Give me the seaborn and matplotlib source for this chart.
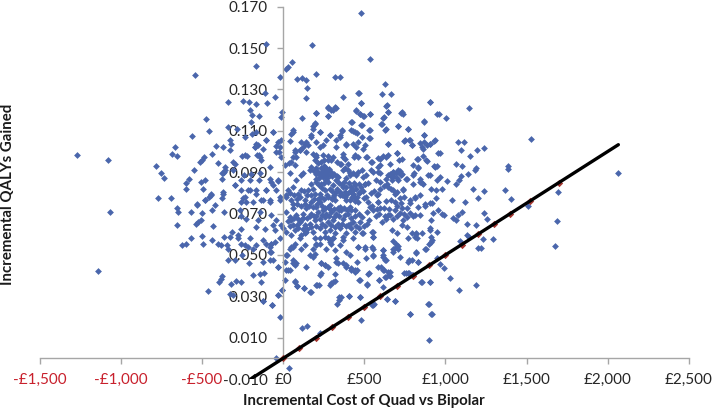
import pandas as pd
import matplotlib
matplotlib.use('agg')
import matplotlib.pyplot as plt
import seaborn as sns

# tick values and labels
x_ticks = [-1500, -1000, -500, 0, 500, 1000, 1500, 2000, 2500]
x_tick_labels = ['-£1,500', '-£1,000', '-£500', '£0', '£500', '£1,000', '£1,500', '£2,000', '£2,500']
y_ticks = [-0.01, 0.01, 0.03, 0.05, 0.07, 0.09, 0.11, 0.13, 0.15, 0.17]
y_tick_labels = ['-0.010', '0.010', '0.030', '0.050', '0.070', '0.090', '0.110', '0.130', '0.150', '0.170']

# threshold line and the small red markers under it
line_cost = [-200, 2065]
line_qaly = [-0.01, 0.1033]
marker_cost = [0, 100, 200, 300, 400, 500, 600, 700, 800, 900, 1000, 1100, 1200, 1300, 1400, 1520, 1700]
marker_qaly = [0.0, 0.005, 0.01, 0.015, 0.02, 0.025, 0.03, 0.035, 0.04, 0.045, 0.05, 0.055, 0.06, 0.065, 0.07, 0.076, 0.085]

# simulation points (cost, qalys)
upper_left = [
    (-1267,.0984),(-1080,.0958),(-785,.0929),(-754,.0894),(-732,.0871),(-683,.0990),(-664,.1021),(-654,.0976),
    (-773,.0776),(-693,.0776),(-600,.0848),(-578,.0866),(-596,.0818),(-549,.0911),(-558,.1074),(-543,.1370),
    (-472,.1159),(-457,.1100),(-512,.0951),(-500,.0961),(-488,.0974),(-506,.0853),(-478,.0861),(-492,.0821),
    (-435,.0990),(-414,.1029),(-371,.1022),(-398,.0945),(-357,.0926),(-365,.0902),(-377,.0894),(-342,.1240),
    (-338,.1119),(-328,.1055),(-318,.1035),(-324,.1009),(-283,.1111),(-297,.0942),(-250,.0979),(-221,.0979),
    (-236,.1071),(-246,.1243),(-209,.1238),(-205,.1203),(-191,.1175),(-148,.1170),(-199,.1143),(-164,.1232),
    (-113,.1283),(-96,.1235),(-51,.1262),(-103,.1521),(-166,.1412),(-21,.1359),(-164,.1095),(-191,.1087),
    (-164,.1038),(-174,.1022),(-158,.0982),(-144,.0974),(-123,.1014),(-103,.1055),(-62,.1092),(-45,.1027),
    (-25,.0998),(-10,.1055),(-4,.1191),(-10,.1167),
    (-297,.0837),(-256,.0861),(-205,.0861),(-215,.0813),(-236,.0781),(-164,.0797),(-148,.0861),(-72,.0853),
    (-31,.0858),(-82,.0926),(-103,.0813),(-41,.0813),(-82,.0765),(-21,.0765),(-123,.0765),(-185,.0757),
    (-256,.0757),(-369,.0797),(-441,.0797),(-455,.0781),(-533,.0745),(-482,.0765),
    (-62,.1092),(-31,.1047),(-21,.1022),(-41,.0998),(-10,.0974),(-103,.1055),(-154,.1030),(-174,.1022),
    (-148,.0982),(-133,.0958),(-236,.0982),(-308,.0950),(-308,.0910),(-359,.0910),(-369,.0894),(-379,.0869),
    (-242,.0886),(-195,.0890),(-144,.0897),(-82,.0869),(-31,.0861),(-62,.0837),(-103,.0813),(-164,.0813),
    (-205,.0813),(-256,.0816),(-297,.0837),(-369,.0805),(-379,.0773),(-441,.0789),(-482,.0765),(-420,.0741),
    (-533,.0741),(-21,.0781),(-82,.0757),(-133,.0765),(-226,.0757),(-246,.0773),
]
lower_left = [
    (-1066,.0708),(-1138,.0423),(-656,.0725),(-644,.0708),(-654,.0644),(-570,.0708),(-502,.0705),(-537,.0652),
    (-521,.0657),(-504,.0667),(-439,.0716),(-365,.0708),(-431,.0641),(-625,.0547),(-595,.0551),(-568,.0580),
    (-498,.0591),(-496,.0551),(-435,.0572),(-400,.0555),(-385,.0547),(-365,.0588),(-328,.0588),(-312,.0612),
    (-348,.0547),(-338,.0531),(-279,.0596),(-256,.0625),(-201,.0584),(-164,.0633),(-113,.0625),(-256,.0689),
    (-226,.0676),(-154,.0668),(-267,.0716),(-144,.0708),(-72,.0692),(-41,.0668),(-62,.0644),(-51,.0620),
    (-10,.0644),(-277,.0580),(-256,.0555),(-236,.0547),(-215,.0539),(-185,.0531),(-164,.0547),(-123,.0572),
    (-103,.0555),(-72,.0555),(-51,.0564),(-82,.0539),(-72,.0515),(-78,.0475),(-338,.0475),(-297,.0475),
    (-250,.0499),(-209,.0462),(-123,.0467),(-31,.0443),(-185,.0403),(-144,.0406),(-117,.0411),(-137,.0370),
    (-379,.0399),(-385,.0383),(-394,.0370),(-318,.0362),(-287,.0374),(-262,.0367),(-463,.0327),(-328,.0312),
    (-308,.0306),(-123,.0279),(-31,.0306),(-4,.0330),(-66,.0258),(-21,.0198),(-45,.0003),
    (-4,.0330),(-31,.0306),(-66,.0258),(-123,.0279),(-31,.0443),(-62,.0475),(-82,.0515),(-72,.0555),(-21,.0580),
]
upper_centre = [
    (16,.1401),(29,.1409),(55,.1435),(178,.1513),(203,.1373),(88,.1351),(119,.1356),(144,.1344),(146,.1306),
    (139,.1257),(117,.1164),(205,.1187),(185,.1122),(195,.1138),(62,.1095),(51,.1084),(174,.1071),(230,.1095),
    (287,.1079),(277,.1170),(277,.1212),(308,.1199),(328,.1212),(322,.1359),(353,.1359),(371,.1265),(447,.1196),
    (363,.1100),(348,.1071),(422,.1141),(431,.1098),(461,.1283),
    (113,.1047),(133,.1038),(154,.1030),(123,.1022),(103,.1006),(72,.1006),(62,.0974),(37,.0945),(10,.0934),
    (72,.0934),(41,.0894),(113,.0885),(174,.0926),(205,.0918),(185,.0990),(205,.0974),(226,.1022),(246,.0982),
    (277,.0958),(308,.0974),(328,.1022),(369,.0974),(400,.0942),(435,.0974),(390,.1038),(447,.1022),
    (215,.0902),(236,.0918),(256,.0918),(277,.0910),(226,.0885),(246,.0877),(267,.0885),(287,.0885),(297,.0902),
    (246,.0902),(205,.0853),(174,.0845),(154,.0813),(277,.0853),(308,.0837),(328,.0861),(369,.0910),(410,.0894),
    (390,.0829),(431,.0813),(379,.0805),(349,.0789),(318,.0765),(256,.0813),(236,.0781),(195,.0797),(113,.0813),
    (92,.0797),(62,.0829),(21,.0781),(51,.0765),(133,.0765),(174,.0757),(277,.0781),(410,.0765),(441,.0773),
    (62,.1103),(41,.1051),(72,.0998),(82,.0974),(31,.0813),(21,.0789),(82,.0861),(123,.0894),(51,.0950),
    (144,.1047),(103,.1006),(144,.0998),
]
centre_band = [
    (21,.0612),(51,.0596),(72,.0620),(92,.0628),(113,.0596),(62,.0644),(103,.0660),(133,.0644),(164,.0652),
    (195,.0668),(226,.0676),(256,.0684),(277,.0660),(308,.0668),(338,.0652),(369,.0676),(400,.0644),(431,.0660),
    (41,.0684),(82,.0692),(123,.0700),(174,.0700),(215,.0708),(246,.0716),(297,.0708),(328,.0700),(359,.0716),
    (400,.0700),(441,.0716),(21,.0708),(62,.0725),(144,.0725),(205,.0733),(277,.0733),(338,.0728),(113,.0668),
    (144,.0612),(185,.0612),(226,.0628),(256,.0612),(287,.0620),(318,.0604),(349,.0628),(390,.0604),(420,.0628),
    (441,.0612),(0,.0628),(226,.0580),(256,.0588),(277,.0580),(195,.0580),
    (226,.0757),(287,.0741),(349,.0733),(410,.0733),(308,.0781),(390,.0765),(226,.0797),(185,.0821),(328,.0805),
    (369,.0829),(287,.0821),(431,.0797),
]
lower_centre = [
    (35,-.0045),(117,.0145),(146,.0158),(230,.0121),(21,.0499),(10,.0467),(21,.0427),(41,.0427),(62,.0459),
    (82,.0459),(62,.0539),(41,.0531),(144,.0443),(72,.0374),(86,.0351),(129,.0338),(170,.0322),(205,.0354),
    (221,.0357),(232,.0411),(287,.0357),(308,.0370),(322,.0406),(334,.0262),(344,.0282),(359,.0298),(404,.0301),
    (236,.0459),(277,.0443),(256,.0451),(338,.0459),(390,.0451),(420,.0435),(441,.0419),(113,.0531),(133,.0547),
    (164,.0499),(185,.0491),(205,.0547),(226,.0555),(267,.0531),(287,.0564),(308,.0580),(349,.0547),(390,.0515),
    (410,.0499),(431,.0580),(369,.0588),(10,.0378),(25,.0502),(72,.0370),(88,.0349),(129,.0338),(62,.0475),
    (72,.0451),(31,.0427),(51,.0539),(72,.0555),(103,.0580),(133,.0604),
    (287,.0572),(308,.0580),(297,.0555),(369,.0572),(205,.0555),(185,.0531),(195,.0507),(236,.0459),(256,.0451),
    (328,.0467),(369,.0459),(390,.0443),(420,.0427),(441,.0427),(318,.0523),(328,.0483),(297,.0365),(318,.0375),
    (230,.0402),(209,.0354),(164,.0322),(344,.0295),(406,.0301),
]
right_top = [
    (480,.1671),(537,.1446),(627,.1325),(465,.1283),(609,.1280),(666,.1280),(480,.1235),(637,.1220),(906,.1238),
    (1148,.1209),(648,.1190),(730,.1190),(740,.1183),(535,.1183),(474,.1183),(494,.1170),(959,.1179),(1004,.1161),
    (617,.1164),(607,.1132),(867,.1145),(709,.1122),(767,.1111),(631,.1108),(484,.1127),(531,.1103),(453,.1090),
    (867,.1079),(484,.1071),(531,.1063),(463,.1047),(746,.1051),(777,.1055),(648,.1035),(791,.1030),(842,.1042),
    (853,.1022),(884,.1030),(904,.1038),(931,.1051),(1080,.1045),(1113,.1045),(1527,.1059),(1097,.1006),(1197,.1006),
    (1240,.1018),(1154,.0980),(968,.0992),(699,.0992),(863,.0978),(826,.0964),(730,.0964),(648,.0982),(617,.0977),
    (586,.0971),(515,.0974),(494,.1014),(463,.0974),(545,.0947),(884,.0955),(1062,.0939),(1105,.0932),(931,.0929),
    (945,.0929),(832,.0926),(1388,.0931),(1388,.0914),(1191,.0918),(1181,.0910),(596,.0934),(586,.0902),(484,.0910),
    (494,.0877),(556,.0902),(648,.0885),(679,.0902),(709,.0902),(668,.0877),(806,.0897),(761,.0869),(709,.0861),
    (904,.0887),(966,.0877),(945,.0861),(1011,.0857),(1136,.0890),(1097,.0881),(1084,.0861),(1062,.0842),(801,.0842),
    (853,.0848),(863,.0842),(525,.0848),(596,.0853),(504,.0845),(648,.0829),(679,.0813),(738,.0818),(699,.0805),
    (1168,.0821),(1240,.0807),(1369,.0815),(976,.0818),(941,.0813),(1201,.0776),(1406,.0770),(1039,.0765),(1119,.0758),
    (920,.0749),(842,.0789),(812,.0773),(746,.0778),(720,.0773),(637,.0762),(576,.0789),(474,.0805),(525,.0757),
    (586,.0757),(689,.0757),(781,.0752),(873,.0745),(2062,.0897),(1693,.0805),
]
right_bottom = [
    (1689,.0663),(1675,.0544),(1509,.0736),(900,.0090),(781,.0217),(914,.0217),(894,.0262),(480,.0187),(689,.0277),
    (642,.0285),(545,.0258),(560,.0261),(498,.0250),(853,.0367),(904,.0370),(1029,.0390),(1187,.0353),(1086,.0330),
    (992,.0435),(966,.0454),(945,.0483),(832,.0467),(771,.0464),(791,.0475),(818,.0510),(720,.0491),(709,.0544),
    (689,.0535),(678,.0515),(613,.0499),(627,.0475),(510,.0483),(551,.0496),(545,.0539),(504,.0539),(556,.0531),
    (463,.0539),(453,.0467),(453,.0427),(469,.0378),(525,.0409),(519,.0357),(474,.0295),(586,.0443),(613,.0427),
    (648,.0419),(658,.0399),(627,.0394),(590,.0378),(613,.0346),(744,.0411),(771,.0411),(791,.0403),(879,.0531),
    (900,.0555),(945,.0609),(920,.0572),(908,.0631),(914,.0588),(855,.0607),(818,.0599),(812,.0588),(822,.0580),
    (771,.0580),(791,.0604),(730,.0644),(761,.0636),(668,.0620),(699,.0604),(617,.0523),(678,.0568),(551,.0588),
    (545,.0612),(484,.0604),(1088,.0568),(1130,.0649),(1187,.0646),(1232,.0575),(1257,.0673),(1240,.0705),(1291,.0578),
    (1201,.0535),(1216,.0536),(1130,.0596),(1146,.0588),(1047,.0679),(1068,.0668),(1078,.0692),(1099,.0708),(976,.0700),
    (990,.0692),(955,.0716),(914,.0668),(924,.0705),(842,.0695),(812,.0695),(761,.0684),(740,.0668),(678,.0676),
    (637,.0676),(596,.0725),(556,.0716),(515,.0708),(484,.0684),(474,.0660),(515,.0652),(607,.0660),(648,.0692),
    (689,.0716),(761,.0725),(832,.0733),(873,.0737),
    (554,.0612),(554,.0588),(492,.0604),(615,.0526),(554,.0499),(615,.0491),(631,.0475),(697,.0555),(676,.0531),
    (707,.0531),(820,.0604),(816,.0515),(830,.0467),(775,.0475),(902,.0620),(877,.0531),(912,.0564),(759,.0411),
    (529,.0411),(601,.0443),(619,.0427),(656,.0419),(652,.0402),(472,.0378),(517,.0359),(590,.0378),(631,.0394),
    (472,.0298),(642,.0285),(691,.0277),(554,.0258),(783,.0217),(898,.0261),(916,.0217),(851,.0370),(902,.0370),
    (775,.0411),(800,.0402),(461,.0539),(502,.0531),
]
dense_upper = [
    (205,.1188),(277,.1216),(318,.1216),(297,.1199),(277,.1172),(482,.1235),(640,.1224),(447,.1199),(472,.1183),
    (496,.1170),(537,.1183),(646,.1191),(619,.1167),(605,.1135),(625,.1106),(707,.1124),(769,.1111),(728,.1188),
    (865,.1146),(949,.1180),(902,.1240),(420,.1143),(482,.1127),(420,.1103),(441,.1095),(533,.1106),(533,.1063),
    (363,.1103),(349,.1079),(328,.1058),(287,.1079),(267,.1058),(230,.1095),(195,.1135),(185,.1111),(174,.1079),
    (205,.1047),(246,.1030),(385,.1030),(431,.1038),(502,.1030),(646,.1038),(748,.1055),(779,.1055),(795,.1030),
    (865,.1079),(871,.1047),(902,.1038),(933,.1055),(861,.1014),(701,.0993),(595,.0966),(636,.0974),(830,.0966),
    (882,.0958),(953,.0993),(717,.0958),(656,.0942),(513,.0974),(543,.0950),(441,.0982),(369,.0990),(379,.0966),
    (359,.0942),(297,.0958),(205,.0982),(195,.0958),(256,.0926),(246,.0902),(676,.0902),(707,.0910),(656,.0886),
    (631,.0869),(728,.0886),(800,.0934),(830,.0918),(933,.0926),(892,.0886),(759,.0869),(800,.0886),(841,.0869),
    (912,.0821),(841,.0853),(584,.0926),(461,.0902),(543,.0910),(595,.0894),(513,.0886),(451,.0886),(379,.0918),
    (410,.0886),(338,.0877),(574,.0861),(502,.0845),(441,.0837),(666,.0821),(738,.0813),(810,.0781),(779,.0765),
    (902,.0749),(943,.0773),(687,.0797),(584,.0797),(513,.0781),(431,.0797),(164,.0910),(195,.0910),(267,.0861),
    (205,.0869),(236,.0845),(461,.0757),(584,.0757),(666,.0765),(728,.0749),(533,.0733),
]
# the blobs in the middle of the cloud, where the diamonds overlap
dense_blobs = [
    (190,.0905),(205,.0890),(220,.0870),(235,.0895),(250,.0930),(262,.0895),(272,.0870),(285,.0915),(300,.0880),
    (315,.0890),(330,.0880),(345,.0850),(360,.0840),(375,.0855),(390,.0870),(405,.0850),(420,.0830),(435,.0850),
    (450,.0820),(465,.0800),(480,.0830),(495,.0810),(255,.0850),(240,.0825),(222,.0840),(300,.0810),(315,.0790),
    (335,.0820),(350,.0805),(362,.0790),(380,.0780),(395,.0795),(410,.0810),(425,.0780),(440,.0760),(455,.0780),
    (300,.0770),(270,.0790),(250,.0770),(215,.0770),(190,.0770),(170,.0790),(150,.0790),(130,.0810),(105,.0780),
    (85,.0770),(70,.0790),(40,.0800),(60,.0745),(85,.0745),(110,.0735),(135,.0745),(160,.0735),(185,.0730),
    (210,.0745),(240,.0735),(260,.0725),(290,.0720),(315,.0720),(345,.0715),(375,.0725),(395,.0715),(420,.0715),
    (30,.0665),(50,.0670),(65,.0680),(95,.0675),(125,.0680),(150,.0680),(165,.0690),(190,.0690),(205,.0690),
    (240,.0695),(265,.0700),(285,.0690),(315,.0685),(345,.0690),(380,.0695),(420,.0680),(445,.0690),(470,.0700),
    (40,.0640),(85,.0645),(120,.0625),(150,.0625),(175,.0635),(205,.0640),(240,.0650),(260,.0640),(295,.0645),
    (320,.0635),(365,.0650),(385,.0640),(415,.0650),(450,.0640),(470,.0630),(500,.0640),(530,.0670),(570,.0690),
    (590,.0700),(625,.0690),(660,.0695),(700,.0690),(720,.0705),(745,.0700),(780,.0705),(800,.0690),(545,.0735),
    (580,.0720),(620,.0725),(650,.0720),(700,.0735),(730,.0725),(680,.0880),(695,.0895),(660,.0890),(720,.0905),
    (735,.0890),(700,.0870),(670,.0860),(640,.0845),(620,.0835),(600,.0820),(560,.0810),(540,.0800),(500,.0775),
    (470,.0845),(430,.0895),(400,.0910),(350,.0940),(335,.0950),(275,.0980),(255,.0960),(235,.0950),(215,.0945),
]
cloud_groups = [upper_left, lower_left, upper_centre, centre_band, lower_centre, right_top, right_bottom, dense_upper, dense_blobs]

df = pd.DataFrame([p for group in cloud_groups for p in group], columns=['cost', 'qaly'])

sns.set_theme(style='white')
plt.rcParams['font.family'] = ['Lato', 'DejaVu Sans']

fig = plt.figure(figsize=(7.14, 4.11), dpi=100)
ax = fig.add_axes([39.5 / 714, (411 - 379.1) / 411, 649.5 / 714, 372.4 / 411])

sns.scatterplot(data=df, x='cost', y='qaly', ax=ax, marker='D', color='#4a66ac', s=12, linewidth=0, clip_on=False)
sns.scatterplot(x=marker_cost, y=marker_qaly, ax=ax, marker='D', color='#a5352f', s=14, linewidth=0, zorder=3)
ax.plot(line_cost, line_qaly, color='black', lw=2.4, solid_capstyle='round', zorder=4)

ax.set_xlim(-1500, 2500)
ax.set_ylim(-0.01, 0.17)
ax.set_xticks(x_ticks)
ax.set_xticklabels(x_tick_labels)
ax.set_yticks(y_ticks)
ax.set_yticklabels(y_tick_labels)

# axes cross at zero
for side in ['top', 'right']:
    ax.spines[side].set_visible(False)
ax.spines['left'].set_position(('data', 0))
ax.spines['bottom'].set_position(('data', 0))
ax.spines['left'].set_bounds(0, 0.17)
for side in ['left', 'bottom']:
    ax.spines[side].set_color('#a6a6a6')
    ax.spines[side].set_linewidth(1.0)

ax.tick_params(axis='x', bottom=True, length=4, width=1, color='#a6a6a6', pad=6.5, labelsize=11, labelcolor='#262626')
ax.tick_params(axis='y', left=True, length=4, width=1, color='#a6a6a6', pad=7, labelsize=11, labelcolor='#262626')
ax.yaxis.get_major_ticks()[0].tick1line.set_visible(False)

# negative costs are red
for lab, val in zip(ax.get_xticklabels(), x_ticks):
    if val < 0:
        lab.set_color('#c8202c')

ax.set_xlabel('Incremental Cost of Quad vs Bipolar', fontweight='bold', fontsize=10.8, color='#1a1a1a', va='center')
ax.set_ylabel('Incremental QALYs Gained', fontweight='bold', fontsize=10.8, color='#1a1a1a', va='center')
ax.xaxis.set_label_coords(0.4996, -0.0588)
ax.yaxis.set_label_coords(-0.0485, 0.497)

fig.savefig('out.png', dpi=100)
